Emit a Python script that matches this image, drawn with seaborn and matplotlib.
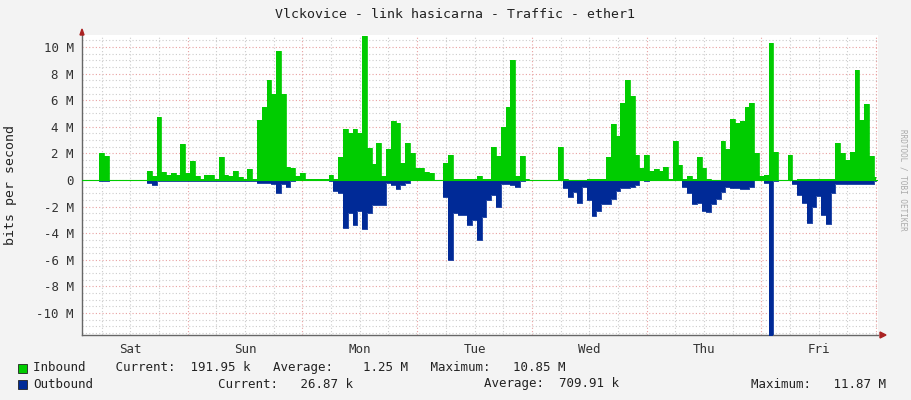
import numpy as np
import pandas as pd
import matplotlib
matplotlib.use("Agg")
import matplotlib.pyplot as plt
import seaborn as sns

# hourly values in Mbit/s, hour 0 = Saturday 00:00
inbound = [
 0,0,0,0,0,0,2.0,1.8,0,0,0,0,0,0,0,0,0.7,0.3,4.7,0.6,0.4,0.5,0.4,2.7,
 0.5,1.4,0.3,0.1,0.4,0.4,0.1,1.7,0.4,0.3,0.7,0.2,0.1,0.8,0.1,4.5,5.5,7.5,6.5,9.7,6.5,1.0,0.9,0.3,
 0.5,0.1,0.05,0.05,0.05,0.05,0.4,0.1,1.7,3.8,3.5,3.8,3.5,10.8,2.4,1.2,2.8,0.3,2.3,4.4,4.3,1.3,2.8,2.0,
 0.9,0.9,0.6,0.5,0,0,1.3,1.9,0.1,0.1,0.1,0.1,0.1,0.3,0.1,0.1,2.5,1.8,4.0,5.5,9.0,0.3,1.8,0.1,
 0,0,0,0,0,0,2.5,0.1,0,0,0,0,0.1,0.1,0.1,0.1,1.7,4.2,3.3,5.8,7.5,6.3,1.9,0.9,
 1.9,0.7,0.8,0.7,1.0,0.1,2.9,1.1,0.1,0.3,0.1,1.7,0.9,0.1,0,0,2.9,2.3,4.6,4.3,4.4,5.5,5.8,2.0,
 0.3,0.4,10.3,2.1,0,0,1.9,0,0.1,0.1,0.1,0.1,0.1,0.1,0.1,0.1,2.8,2.0,1.5,2.1,8.3,4.5,5.7,1.8,
 0.2]
outbound = [
 0,0,0,0,0,0,-0.1,-0.1,0,0,0,0,0,0,0,0,-0.2,-0.4,-0.1,-0.1,-0.1,-0.1,-0.1,-0.1,
 -0.1,-0.1,-0.05,-0.05,-0.05,-0.05,-0.05,-0.05,-0.05,-0.05,-0.05,-0.05,-0.05,-0.05,-0.05,-0.2,-0.2,-0.2,-0.3,-1.0,-0.3,-0.5,-0.1,0,
 0,0,0,0,0,0,-0.1,-0.8,-1.0,-3.6,-2.5,-3.4,-2.3,-3.7,-2.5,-1.9,-1.9,-1.9,-0.2,-0.4,-0.7,-0.4,-0.2,0,
 0,0,0,0,0,0,-1.3,-6.0,-2.5,-2.6,-2.6,-3.4,-3.0,-4.5,-2.8,-1.5,-1.1,-2.0,-0.3,-0.3,-0.4,-0.5,-0.1,0,
 0,0,0,0,0,0,0,-0.6,-1.3,-0.9,-1.7,-0.5,-1.5,-2.7,-2.3,-1.8,-1.8,-1.4,-0.8,-0.6,-0.6,-0.5,-0.4,0,
 -0.1,0,0,0,0,0,0,0,-0.5,-1.0,-1.8,-1.7,-2.3,-2.4,-1.8,-1.4,-0.9,-0.5,-0.6,-0.6,-0.7,-0.7,-0.5,0,
 0,-0.2,-11.8,-0.1,0,0,0,-0.3,-1.1,-1.7,-3.2,-2.0,-1.2,-2.6,-3.3,-1.0,-0.3,-0.3,-0.3,-0.3,-0.3,-0.3,-0.3,-0.3,
 -0.1]
days = ["Sat", "Sun", "Mon", "Tue", "Wed", "Thu", "Fri"]
ytick_vals = [10, 8, 6, 4, 2, 0, -2, -4, -6, -8, -10]
ytick_labels = ["10 M", "8 M", "6 M", "4 M", "2 M", "0", "-2 M", "-4 M", "-6 M", "-8 M", "-10 M"]

df = pd.DataFrame({"hour": np.arange(len(inbound)), "in": inbound, "out": outbound})

sns.set_theme(style="white")
plt.rcParams['font.family'] = ['DejaVu Sans Mono']
GREEN = "#00cc00"
BLUE = "#002a97"
fig = plt.figure(figsize=(9.11, 4.0), dpi=100, facecolor="#f3f3f3")
ax = fig.add_axes([82/911, 65/400, 796/911, 300/400])
ax.set_facecolor("white")

ax.fill_between(df["hour"], 0, df["in"], step="mid", color=GREEN, linewidth=0, zorder=3)
ax.fill_between(df["hour"], 0, df["out"], step="mid", color=BLUE, linewidth=0, zorder=3)
sns.lineplot(data=df, x="hour", y="in", drawstyle="steps-mid", color=GREEN, lw=0.6, ax=ax, zorder=4)
sns.lineplot(data=df, x="hour", y="out", drawstyle="steps-mid", color=BLUE, lw=0.6, ax=ax, zorder=4)

ax.set_xlim(1.9, 168.4)
ax.set_ylim(-11.65, 10.9)

# grid
for v in np.arange(-11.5, 11, 0.5):
    if abs(v % 2) < 1e-9:
        ax.axhline(v, color="#e8a0a0", lw=0.8, ls=(0, (1, 2)), zorder=1)
    else:
        ax.axhline(v, color="#cccccc", lw=0.8, ls=(0, (1, 2)), zorder=1)
for h in range(6, 169, 6):
    if h % 24 == 0:
        ax.axvline(h, color="#e8a0a0", lw=0.8, ls=(0, (1, 2)), zorder=1)
    else:
        ax.axvline(h, color="#cccccc", lw=0.8, ls=(0, (1, 2)), zorder=1)
ax.axhline(0, color=GREEN, lw=0.8, zorder=5)

ax.set_yticks(ytick_vals)
ax.set_yticklabels(ytick_labels)
ax.set_xticks([12 + 24*i for i in range(7)])
ax.set_xticklabels(days)
ax.tick_params(axis="both", length=0, labelsize=9, colors="#333333", pad=6)
ax.set_xlabel("")
ax.set_ylabel("bits per second", fontsize=9.5, color="#222222", labelpad=14)
for s in ["top", "right"]:
    ax.spines[s].set_visible(False)
for s in ["left", "bottom"]:
    ax.spines[s].set_color("#666666")
    ax.spines[s].set_linewidth(1)

fig.text(455/911, 1 - 15/400, "Vlckovice - link hasicarna - Traffic - ether1",
         ha="center", va="center", fontsize=9.5, color="#222222")
fig.text(903/911, 0.55, "RRDTOOL / TOBI OETIKER", rotation=270, ha="center",
         va="center", fontsize=5.5, color="#aaaaaa")

# arrows
fig.patches.append(plt.Polygon([[80/911, 1-35/400], [84/911, 1-35/400], [82/911, 1-29/400]],
                               closed=True, transform=fig.transFigure, color="#aa2222"))
fig.patches.append(plt.Polygon([[880/911, 1-332/400], [880/911, 1-338/400], [886/911, 1-335/400]],
                               closed=True, transform=fig.transFigure, color="#aa2222"))

# legend
def sq(x, y, c):
    fig.patches.append(plt.Rectangle((x/911, 1-(y+5)/400), 9/911, 9/400,
                                     transform=fig.transFigure, facecolor=c, edgecolor="#222222", lw=0.6))
fs = 9
sq(18, 368, GREEN)
fig.text(33/911, 1-368/400,
         "Inbound    Current:  191.95 k   Average:    1.25 M   Maximum:   10.85 M",
         fontsize=fs, va="center", color="#222222")
sq(18, 384, BLUE)
fig.text(33/911, 1-384/400, "Outbound", fontsize=fs, va="center", color="#222222")
fig.text(218/911, 1-384/400, "Current:   26.87 k", fontsize=fs, va="center", color="#222222")
fig.text(484/911, 1-384/400, "Average:  709.91 k", fontsize=fs, va="center", color="#222222")
fig.text(751/911, 1-384/400, "Maximum:   11.87 M", fontsize=fs, va="center", color="#222222")

fig.savefig("out.png", dpi=100, facecolor=fig.get_facecolor())
